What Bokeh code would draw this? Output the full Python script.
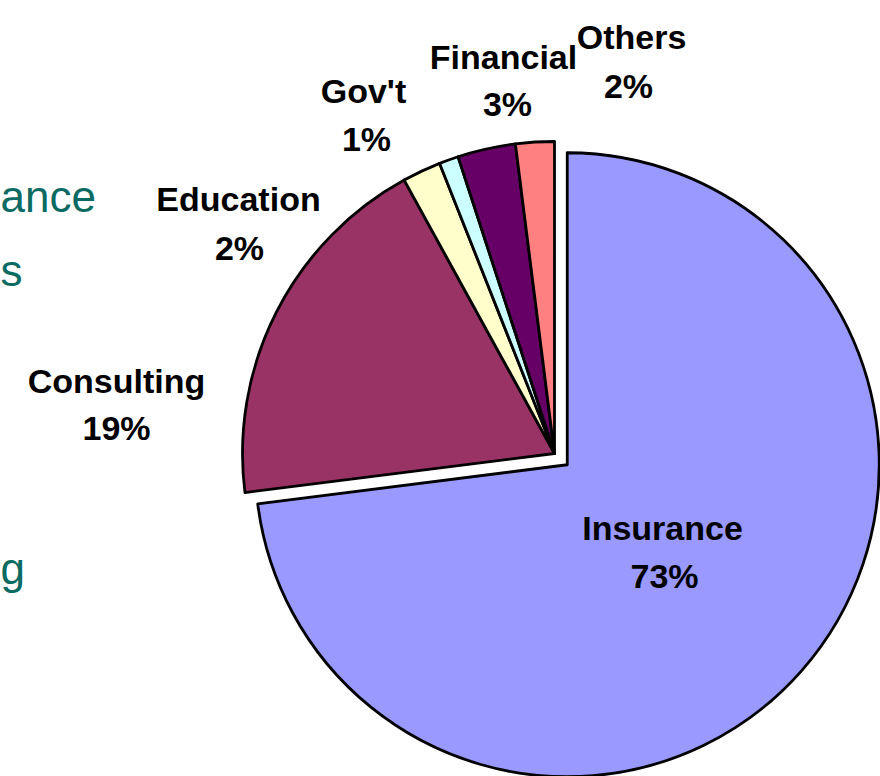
import numpy as np
from bokeh.plotting import figure
from bokeh.models import Range1d
from bokeh.embed import file_html
from bokeh.resources import INLINE
from bokeh.core.properties import value

# ---- data ----
categories = ["Insurance", "Consulting", "Education", "Gov't", "Financial", "Others"]
shares = [73, 19, 2, 1, 3, 2]
pct_labels = ["73%", "19%", "2%", "1%", "3%", "2%"]
colors = ["#9999FF", "#993366", "#FFFFCC", "#CCFFFF", "#660066", "#FF8080"]
# fragments of slide text at the left edge
side_text = ["ance", "s", "g"]

# ---- layout (pixel coordinates of the reference picture) ----
W, H = 880, 776
def fx(x):
    return x
def fy(y):
    return H - y

center_img = (554, 453)
R = 312
explode = [17, 0, 0, 0, 0, 0]
name_pos = [(662, 527), (116, 380), (238, 198), (363, 90), (503, 56), (631, 36)]
pct_pos = [(664, 575), (116, 427), (239, 247), (366, 138), (507, 103), (628, 85)]
side_pos = [(0, 196), (0, 270), (0, 568)]

p = figure(width=W, height=H, x_range=Range1d(0, W), y_range=Range1d(0, H),
           output_backend="svg", toolbar_location=None, min_border=0)
p.axis.visible = False
p.grid.visible = False
p.outline_line_color = None
p.background_fill_color = "white"

frac = np.array(shares, dtype=float) / sum(shares)
cum = np.concatenate([[0.0], np.cumsum(frac)])
th0 = cum[:-1] * 2 * np.pi
th1 = cum[1:] * 2 * np.pi
mid = (th0 + th1) / 2
ex = np.array(explode, dtype=float)
cx = fx(center_img[0]) + ex * np.sin(mid)
cy = fy(center_img[1]) + ex * np.cos(mid)

p.wedge(x=cx, y=cy, radius=R,
        start_angle=np.pi / 2 - th1, end_angle=np.pi / 2 - th0,
        fill_color=colors, line_color="black", line_width=2.8,
        line_join="round")

font = value("Liberation Sans")
p.text(x=[fx(a) for a, b in name_pos], y=[fy(b) for a, b in name_pos],
       text=categories, text_font=font, text_font_style="bold",
       text_font_size="34px", text_align="center",
       text_baseline="alphabetic", text_color="black")
p.text(x=[fx(a) for a, b in pct_pos], y=[fy(b) for a, b in pct_pos],
       text=pct_labels, text_font=font, text_font_style="bold",
       text_font_size="34px", text_align="center",
       text_baseline="alphabetic", text_color="black")
p.text(x=[fx(a) for a, b in side_pos], y=[fy(b) for a, b in side_pos],
       text=side_text, text_font=font, text_font_size="44px",
       text_align="left", text_baseline="alphabetic", text_color="#0B6A62")

open("out.html", "w").write(file_html(p, INLINE))
